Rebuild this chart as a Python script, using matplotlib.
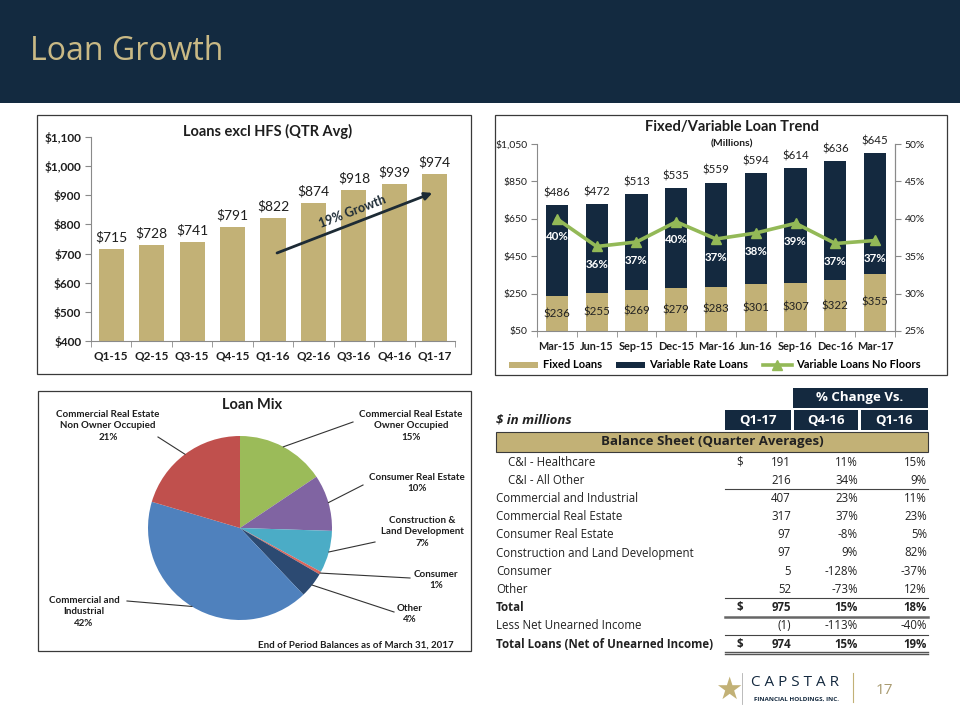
import matplotlib
matplotlib.use('Agg')
import matplotlib.pyplot as plt
from matplotlib.patches import Rectangle, Patch
from matplotlib.lines import Line2D
import numpy as np

plt.rcParams['font.family'] = ['Lato', 'DejaVu Sans']

# ---------------- data ----------------
quarters = ['Q1-15', 'Q2-15', 'Q3-15', 'Q4-15', 'Q1-16', 'Q2-16', 'Q3-16', 'Q4-16', 'Q1-17']
loans_avg = [715, 728, 741, 791, 822, 874, 918, 939, 974]

months = ['Mar-15', 'Jun-15', 'Sep-15', 'Dec-15', 'Mar-16', 'Jun-16', 'Sep-16', 'Dec-16', 'Mar-17']
fixed_loans = [236, 255, 269, 279, 283, 301, 307, 322, 355]
variable_loans = [486, 472, 513, 535, 559, 594, 614, 636, 645]
no_floor_pct = [40.0, 36.3, 36.9, 39.6, 37.3, 38.1, 39.4, 36.7, 37.1]
no_floor_labels = ['40%', '36%', '37%', '40%', '37%', '38%', '39%', '37%', '37%']

pie_names = ['Commercial Real Estate\nOwner Occupied', 'Consumer Real Estate',
             'Construction &\nLand Development', 'Consumer', 'Other',
             'Commercial and\nIndustrial', 'Commercial Real Estate\nNon Owner Occupied']
pie_values = [15.6, 9.9, 7.4, 0.5, 4.5, 41.7, 20.4]
pie_pct = ['15%', '10%', '7%', '1%', '4%', '42%', '21%']

row_labels = ['C&I - Healthcare', 'C&I - All Other', 'Commercial and Industrial',
              'Commercial Real Estate', 'Consumer Real Estate',
              'Construction and Land Development', 'Consumer', 'Other', 'Total',
              'Less Net Unearned Income', 'Total Loans (Net of Unearned Income)']
col_q117 = ['191', '216', '407', '317', '97', '97', '5', '52', '975', '(1)', '974']
col_q416 = ['11%', '34%', '23%', '37%', '-8%', '9%', '-128%', '-73%', '15%', '-113%', '15%']
col_q116 = ['15%', '9%', '11%', '23%', '5%', '82%', '-37%', '12%', '18%', '-40%', '19%']
row_dollar = [True, False, False, False, False, False, False, False, True, False, True]
row_indent = [True, True, False, False, False, False, False, False, False, False, False]
row_bold = [False] * 8 + [True, False, True]

# ---------------- style ----------------
W, H = 960, 720
NAVY = '#14293f'
TAN = '#c2b176'
GREEN = '#93b957'
TXT = '#1e1e1e'
SPINE = '#8a8a8a'
pie_colors = ['#9bbb59', '#8064a2', '#4bacc6', '#d9665c', '#2c4a72', '#4f81bd', '#c0504d']


def box(x0, y0, x1, y1):
    return [x0 / W, 1 - y1 / H, (x1 - x0) / W, (y1 - y0) / H]


def fx(px):
    return px / W


def fy(py):
    return 1 - py / H


fig = plt.figure(figsize=(9.6, 7.2), dpi=100)
fig.patch.set_facecolor('white')

# header band
fig.add_artist(Rectangle((0, fy(103)), 1, 103 / H, transform=fig.transFigure,
                         facecolor='#132a40', edgecolor='none', zorder=0))
fig.text(fx(30), fy(52), 'Loan Growth', fontsize=23, color='#c9b985',
         family=['Open Sans', 'DejaVu Sans'], ha='left', va='center')

# panel borders
for (x0, y0, x1, y1) in [(37, 115, 471, 374), (495, 115, 947, 375), (38, 391, 471, 651)]:
    fig.add_artist(Rectangle((fx(x0), fy(y1)), (x1 - x0) / W, (y1 - y0) / H,
                             transform=fig.transFigure, fill=False,
                             edgecolor='#3a3a3a', lw=0.9))

# ---------------- panel 1: Loans excl HFS ----------------
ax1 = fig.add_axes(box(91, 137, 455, 341))
x = np.arange(len(quarters))
bars = ax1.bar(x, loans_avg, width=0.62, color=TAN, zorder=2)
ax1.set_xlim(-0.5, len(quarters) - 0.5)
ax1.set_ylim(400, 1100)
yt = list(range(400, 1101, 100))
ax1.set_yticks(yt, [f'${v:,}' for v in yt])
ax1.set_xticks(x, quarters)
ax1.set_xticks(np.arange(-0.5, len(quarters), 1), minor=True)
ax1.tick_params(axis='x', which='major', length=0, pad=7, labelsize=8.5, labelcolor=TXT)
ax1.tick_params(axis='x', which='minor', length=4, color=SPINE, direction='out')
ax1.tick_params(axis='y', length=4, color=SPINE, labelsize=8.5, labelcolor=TXT, pad=3)
for lab in ax1.get_xticklabels() + ax1.get_yticklabels():
    lab.set_fontweight('bold')
for s in ['top', 'right']:
    ax1.spines[s].set_visible(False)
for s in ['left', 'bottom']:
    ax1.spines[s].set_color(SPINE)
    ax1.spines[s].set_linewidth(0.8)
for xi, v in zip(x, loans_avg):
    ax1.annotate(f'${v}', (xi, v), xytext=(0, 4), textcoords='offset points',
                 ha='center', va='bottom', fontsize=10, color=TXT)
# growth arrow
i0, i1 = 4, len(quarters) - 1
ax1.annotate('', xy=(i1 - 0.06, loans_avg[i1] - 66), xytext=(i0 + 0.1, loans_avg[i0] - 120),
             arrowprops=dict(arrowstyle='-|>', lw=2.0, color='#1d2b35', mutation_scale=11,
                             shrinkA=0, shrinkB=0))
ax1.text(5.96, 845, '19% Growth', rotation=21, ha='center', va='center',
         fontsize=9, fontweight='bold', color='#1d2b35', rotation_mode='anchor')
fig.text(fx(268), fy(131), 'Loans excl HFS (QTR Avg)', ha='center', va='center',
         fontsize=10.5, fontweight='bold', color=TXT)

# ---------------- panel 2: Fixed/Variable ----------------
ax2 = fig.add_axes(box(537, 144, 895, 331))
ax2.bar(x, fixed_loans, width=0.56, color=TAN, zorder=2)
ax2.bar(x, variable_loans, bottom=fixed_loans, width=0.56, color=NAVY, zorder=2)
ax2.set_xlim(-0.5, len(months) - 0.5)
ax2.set_ylim(50, 1050)
yt2 = list(range(50, 1051, 200))
ax2.set_yticks(yt2, [f'${v:,}' for v in yt2])
ax2.set_xticks(x, months)
ax2.set_xticks(np.arange(-0.5, len(months), 1), minor=True)
ax2.tick_params(axis='x', which='major', length=0, pad=7, labelsize=7.8, labelcolor=TXT)
ax2.tick_params(axis='x', which='minor', length=4, color=SPINE)
ax2.tick_params(axis='y', length=4, color=SPINE, labelsize=7.5, labelcolor=TXT, pad=3)
for lab in ax2.get_xticklabels():
    lab.set_fontweight('bold')
ax2.spines['top'].set_visible(False)
for s in ['left', 'bottom', 'right']:
    ax2.spines[s].set_color(SPINE)
    ax2.spines[s].set_linewidth(0.8)
for xi, f, v in zip(x, fixed_loans, variable_loans):
    ax2.text(xi, (50 + f) / 2, f'${f}', ha='center', va='center', fontsize=8.3,
             color='#222222', zorder=3)
    ax2.annotate(f'${v}', (xi, f + v), xytext=(0, 5), textcoords='offset points',
                 ha='center', va='bottom', fontsize=8.3, color=TXT)

ax3 = ax2.twinx()
ax3.set_ylim(25, 50)
yt3 = list(range(25, 51, 5))
ax3.set_yticks(yt3, [f'{v}%' for v in yt3])
ax3.tick_params(axis='y', length=4, color=SPINE, labelsize=7.5, labelcolor=TXT, pad=3)
for s in ['top', 'left', 'bottom']:
    ax3.spines[s].set_visible(False)
ax3.spines['right'].set_color(SPINE)
ax3.spines['right'].set_linewidth(0.8)
ax3.plot(x, no_floor_pct, color=GREEN, lw=2.6, marker='^', ms=6.5, zorder=4)
for xi, p, lab in zip(x, no_floor_pct, no_floor_labels):
    ax3.annotate(lab, (xi, p), xytext=(0, -13), textcoords='offset points',
                 ha='center', va='center', fontsize=8.3, fontweight='bold',
                 color='white', zorder=5)
fig.text(fx(732), fy(127), 'Fixed/Variable Loan Trend', ha='center', va='center',
         fontsize=10.5, fontweight='bold', color=TXT)
fig.text(fx(732), fy(144), '(Millions)', ha='center', va='center',
         fontsize=7.5, fontweight='bold', color=TXT)
handles = [Patch(facecolor=TAN), Patch(facecolor=NAVY),
           Line2D([], [], color=GREEN, lw=2.6, marker='^', ms=6.5)]
fig.legend(handles, ['Fixed Loans', 'Variable Rate Loans', 'Variable Loans No Floors'],
           loc='center', bbox_to_anchor=(fx(715), fy(365)), ncol=3, frameon=False,
           prop={'size': 8, 'weight': 'bold'}, handlelength=2.6, handleheight=0.45,
           columnspacing=1.3, handletextpad=0.4)

# ---------------- panel 3: Loan Mix pie ----------------
R = 92.0
cx, cy = 240, 528
axp = fig.add_axes(box(38, 391, 471, 651))
wedges, _ = axp.pie(pie_values, colors=pie_colors, startangle=90, counterclock=False,
                    radius=1, wedgeprops=dict(linewidth=0))
axp.set_aspect('auto')
axp.set_xlim((38 - cx) / R, (471 - cx) / R)
axp.set_ylim((cy - 651) / R, (cy - 391) / R)
axp.axis('off')


def pu(px, py):
    return ((px - cx) / R, (cy - py) / R)


# label text centres and leader elbow points (layout, in pixels)
label_pos = [(411, 426), (417, 483), (422, 532), (436, 580), (410, 614), (84, 612), (108, 426)]
leader_end = [(353, 422), (363, 485), (375, 542), (410, 578), (394, 612), (127, 601), (158, 437)]
for w, name, pct, lp, le in zip(wedges, pie_names, pie_pct, label_pos, leader_end):
    ang = np.deg2rad((w.theta1 + w.theta2) / 2)
    ex, ey = np.cos(ang), np.sin(ang)
    lx, ly = pu(*le)
    axp.plot([ex, lx], [ey, ly], color='#333333', lw=0.8)
    tx, ty = pu(*lp)
    axp.text(tx, ty, f'{name}\n{pct}', ha='center', va='center', fontsize=7,
             fontweight='bold', color=TXT, linespacing=1.3)
fig.text(fx(252), fy(405), 'Loan Mix', ha='center', va='center', fontsize=10.5,
         fontweight='bold', color=TXT)
fig.text(fx(356), fy(645), 'End of Period Balances as of March 31, 2017', ha='center',
         va='center', fontsize=7, fontweight='bold', color=TXT)

# ---------------- panel 4: table ----------------
TF = ['Open Sans', 'DejaVu Sans']
TC = '#222222'


def rect(x0, y0, x1, y1, fc, ec='none', lw=0):
    fig.add_artist(Rectangle((fx(x0), fy(y1)), (x1 - x0) / W, (y1 - y0) / H,
                             transform=fig.transFigure, facecolor=fc, edgecolor=ec, lw=lw))


def hline(x0, x1, py, lw=0.8, color='#444444'):
    fig.add_artist(Line2D([fx(x0), fx(x1)], [fy(py), fy(py)], transform=fig.transFigure,
                          color=color, lw=lw))


rect(793, 388, 928, 408, NAVY)
rect(725, 410, 791, 430, NAVY)
rect(794, 410, 858, 430, NAVY)
rect(861, 410, 928, 430, NAVY)
rect(496, 432, 928, 452, TAN, ec='#3a3a3a', lw=0.8)
hdr = dict(color='white', fontsize=9.5, fontweight='bold', family=TF, ha='center', va='center')
fig.text(fx(860), fy(398), '% Change Vs.', **hdr)
fig.text(fx(758), fy(420), 'Q1-17', **hdr)
fig.text(fx(826), fy(420), 'Q4-16', **hdr)
fig.text(fx(894), fy(420), 'Q1-16', **hdr)
fig.text(fx(496), fy(420), '$ in millions', fontsize=9.5, fontweight='bold', style='italic',
         family=TF, color=TC, ha='left', va='center')
fig.text(fx(712), fy(442), 'Balance Sheet (Quarter Averages)', fontsize=9.5,
         fontweight='bold', family=TF, color=TC, ha='center', va='center')

for i, lab in enumerate(row_labels):
    py = 462 + i * 18.2
    wt = 'bold' if row_bold[i] else 'normal'
    kw = dict(fontsize=8.3, fontweight=wt, family=TF, color=TC, va='center')
    fig.text(fx(508 if row_indent[i] else 496), fy(py), lab, ha='left', **kw)
    if row_dollar[i]:
        fig.text(fx(740), fy(py), '$', ha='center', **kw)
    fig.text(fx(791), fy(py), col_q117[i], ha='right', **kw)
    fig.text(fx(858), fy(py), col_q416[i], ha='right', **kw)
    fig.text(fx(927), fy(py), col_q116[i], ha='right', **kw)

hline(725, 928, 489)
hline(725, 928, 598)
hline(725, 928, 616.5, lw=1.8, color='#666666')
hline(725, 928, 635)
hline(725, 928, 652, lw=1.0, color='#555555')
hline(725, 928, 654, lw=1.0, color='#555555')

# ---------------- logo / page number ----------------
fig.text(fx(729), fy(690), '\u2605', fontsize=22, color=TAN, family=['DejaVu Sans'],
         ha='center', va='center')
fig.add_artist(Line2D([fx(742), fx(742)], [fy(673), fy(704)], transform=fig.transFigure,
                      color='#b0b0b0', lw=0.6))
fig.add_artist(Line2D([fx(853), fx(853)], [fy(673), fy(702)], transform=fig.transFigure,
                      color=TAN, lw=0.8))
fig.text(fx(795), fy(682), 'C A P S T A R', fontsize=11, color=NAVY, family=TF,
         ha='center', va='center')
fig.text(fx(796), fy(699), 'FINANCIAL HOLDINGS, INC.', fontsize=4.5, fontweight='bold',
         color=NAVY, family=TF, ha='center', va='center')
fig.text(fx(884), fy(691), '17', fontsize=11, color='#a99b70', family=TF,
         ha='center', va='center')

fig.savefig('out.png', dpi=100)
